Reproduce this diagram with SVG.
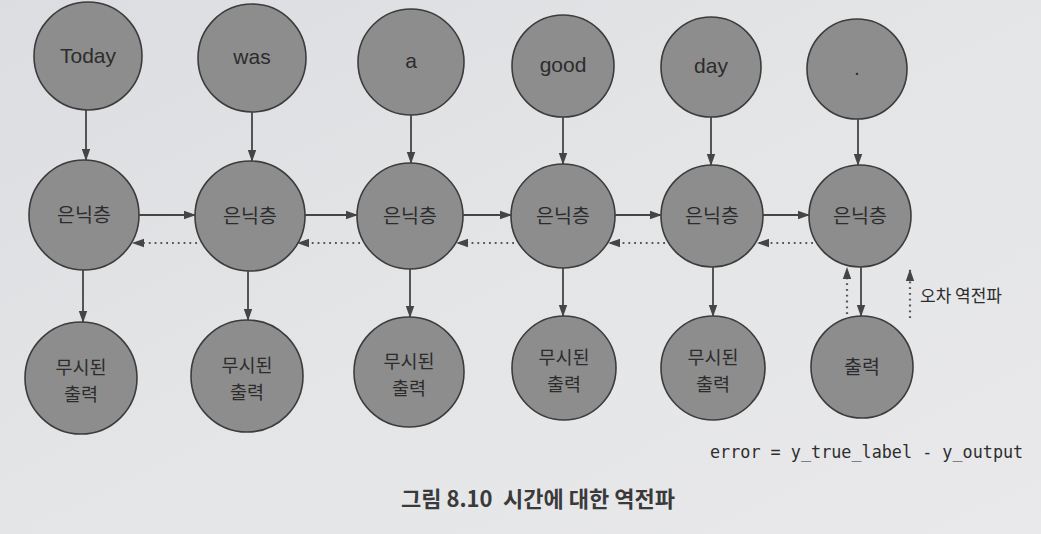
<svg xmlns="http://www.w3.org/2000/svg" width="1041" height="534" viewBox="0 0 1041 534">
  <defs>
    <linearGradient id="bg" x1="0" y1="0" x2="1" y2="1">
      <stop offset="0" stop-color="#dcdde0"/>
      <stop offset="0.5" stop-color="#e4e5e7"/>
      <stop offset="1" stop-color="#e9e9eb"/>
    </linearGradient>
    <marker id="ah" markerWidth="12" markerHeight="10" refX="11" refY="5" orient="auto" markerUnits="userSpaceOnUse">
      <path d="M0,0.8 L12,5 L0,9.2 Z" fill="#454545"/>
    </marker>
  </defs>
  <style>
    .node circle { fill: #8d8d8e; stroke: #3c3c3c; stroke-width: 1.6; }
    .lat { font-family: "Liberation Sans", Arial, sans-serif; font-size: 21px; fill: #2c2c2c; text-anchor: middle; }
    .kr { font-family: "Noto Sans CJK KR", "Liberation Sans", sans-serif; font-size: 19.5px; fill: #2c2c2c; text-anchor: middle; }
    .kr2 { font-family: "Noto Sans CJK KR", "Liberation Sans", sans-serif; font-size: 18.5px; fill: #2c2c2c; text-anchor: middle; }
    .solid { stroke: #454545; stroke-width: 1.8; fill: none; marker-end: url(#ah); }
    .dot { stroke: #555; stroke-width: 2.2; fill: none; stroke-dasharray: 1.8 4; marker-end: url(#ah); }
    .cap { font-family: "Noto Sans CJK KR", "Liberation Sans", sans-serif; font-size: 22px; font-weight: bold; fill: #3a3a3a; }
    .code { font-family: "DejaVu Sans Mono", "Liberation Mono", monospace; font-size: 16.8px; fill: #2e2e2e; }
  </style>
  <rect x="0" y="0" width="1041" height="534" fill="url(#bg)"/>

  <!-- Input row -->
  <g id="in-today" class="node"><circle cx="88" cy="56" r="54"/><text class="lat" x="88" y="63">Today</text></g>
  <g id="in-was" class="node"><circle cx="252" cy="58" r="54"/><text class="lat" x="252" y="64">was</text></g>
  <g id="in-a" class="node"><circle cx="411" cy="62" r="53"/><text class="lat" x="411" y="68">a</text></g>
  <g id="in-good" class="node"><circle cx="563" cy="66" r="51"/><text class="lat" x="563" y="72">good</text></g>
  <g id="in-day" class="node"><circle cx="711" cy="67" r="50"/><text class="lat" x="711" y="73">day</text></g>
  <g id="in-dot" class="node"><circle cx="857" cy="69" r="50"/><text class="lat" x="857" y="75">.</text></g>

  <!-- Hidden row -->
  <g id="h1" class="node"><circle cx="84" cy="215" r="55"/><text class="kr" x="84" y="222">은닉층</text></g>
  <g id="h2" class="node"><circle cx="250" cy="216" r="55"/><text class="kr" x="250" y="223">은닉층</text></g>
  <g id="h3" class="node"><circle cx="410" cy="216" r="53"/><text class="kr" x="410" y="223">은닉층</text></g>
  <g id="h4" class="node"><circle cx="563" cy="216" r="52"/><text class="kr" x="563" y="223">은닉층</text></g>
  <g id="h5" class="node"><circle cx="712" cy="216" r="51"/><text class="kr" x="712" y="223">은닉층</text></g>
  <g id="h6" class="node"><circle cx="860" cy="216" r="51"/><text class="kr" x="860" y="223">은닉층</text></g>

  <!-- Output row -->
  <g id="o1" class="node"><circle cx="81" cy="378" r="56"/><text class="kr2" x="81" y="374">무시된</text><text class="kr2" x="81" y="401">출력</text></g>
  <g id="o2" class="node"><circle cx="247" cy="376" r="56"/><text class="kr2" x="247" y="372">무시된</text><text class="kr2" x="247" y="399">출력</text></g>
  <g id="o3" class="node"><circle cx="409" cy="372" r="55"/><text class="kr2" x="409" y="368">무시된</text><text class="kr2" x="409" y="395">출력</text></g>
  <g id="o4" class="node"><circle cx="564" cy="368" r="52"/><text class="kr2" x="564" y="364">무시된</text><text class="kr2" x="564" y="391">출력</text></g>
  <g id="o5" class="node"><circle cx="713" cy="368" r="52"/><text class="kr2" x="713" y="364">무시된</text><text class="kr2" x="713" y="391">출력</text></g>
  <g id="o6" class="node"><circle cx="862" cy="367" r="51"/><text class="kr" x="862" y="374">출력</text></g>

  <!-- Connectors -->
  <g id="connectors">
    <!-- input to hidden -->
    <line class="solid" x1="86" y1="110" x2="86" y2="160"/>
    <line class="solid" x1="252" y1="112" x2="252" y2="161"/>
    <line class="solid" x1="411" y1="115" x2="411" y2="163"/>
    <line class="solid" x1="563" y1="117" x2="563" y2="164"/>
    <line class="solid" x1="711" y1="117" x2="711" y2="165"/>
    <line class="solid" x1="858" y1="119" x2="858" y2="165"/>
    <!-- hidden to output -->
    <line class="solid" x1="83" y1="270" x2="83" y2="322"/>
    <line class="solid" x1="248" y1="271" x2="248" y2="320"/>
    <line class="solid" x1="410" y1="269" x2="410" y2="317"/>
    <line class="solid" x1="563" y1="268" x2="563" y2="316"/>
    <line class="solid" x1="713" y1="267" x2="713" y2="316"/>
    <line class="solid" x1="861" y1="267" x2="861" y2="316"/>
    <!-- hidden forward -->
    <line class="solid" x1="139" y1="215" x2="195" y2="215"/>
    <line class="solid" x1="305" y1="215" x2="357" y2="215"/>
    <line class="solid" x1="463" y1="215" x2="511" y2="215"/>
    <line class="solid" x1="615" y1="215" x2="661" y2="215"/>
    <line class="solid" x1="763" y1="215" x2="809" y2="215"/>
    <!-- backprop dotted -->
    <line class="dot" x1="197" y1="243" x2="133" y2="243"/>
    <line class="dot" x1="360" y1="243" x2="298" y2="243"/>
    <line class="dot" x1="514" y1="243" x2="457" y2="243"/>
    <line class="dot" x1="665" y1="243" x2="609" y2="243"/>
    <line class="dot" x1="813" y1="243" x2="758" y2="243"/>
    <line class="dot" x1="847" y1="314" x2="847" y2="268"/>
    <!-- legend -->
    <line class="dot" x1="910" y1="318" x2="910" y2="270"/>
  </g>

  <text class="kr" x="920" y="302" style="text-anchor:start;font-size:17px">오차 역전파</text>
  <text class="code" x="710" y="458">error = y_true_label - y_output</text>
  <text class="cap" y="507"><tspan x="401">그림 8.10</tspan><tspan x="503">시간에 대한 역전파</tspan></text>
</svg>
